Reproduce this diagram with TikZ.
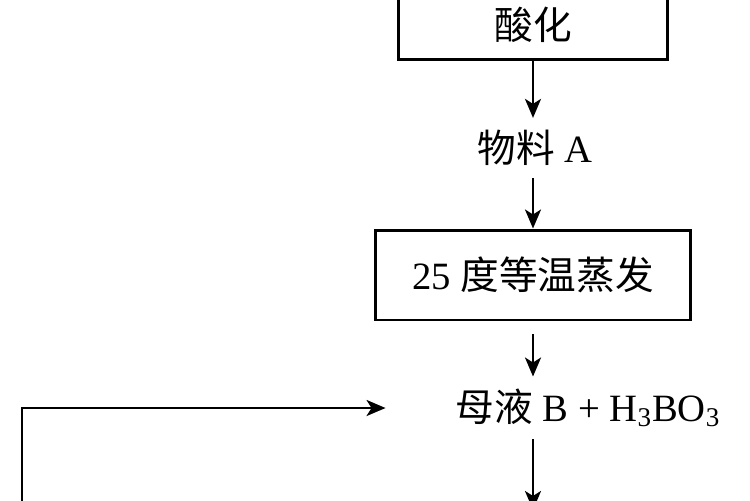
\documentclass[tikz,border=0pt]{standalone}
\usepackage{fontspec}
\setmainfont{Liberation Serif}
\newfontfamily\cjk{Noto Sans CJK SC}
\usetikzlibrary{arrows.meta, positioning}
\tikzstyle{flow}=[>={Stealth[length=0.38cm,width=0.32cm,inset=0.1cm]}, line width=1.5pt]
\tikzstyle{stage}=[draw, line width=1.7pt, inner sep=0pt]
\tikzstyle{stuff}=[inner sep=0.22cm]

\begin{document}
\begin{tikzpicture}[flow, x=0.02cm, y=-0.02cm, font=\fontsize{22}{26}\selectfont]
  \useasboundingbox (0,0) rectangle (750,500);
  \clip (0,0) rectangle (750,500);
  \node[stage, minimum width=5.4cm, minimum height=1.4cm] (acid) at (533,25) {\cjk 酸化};
  \node[stuff] (matA) at (535,148) {{\cjk 物料} A};
  \node[stage, minimum width=6.32cm, minimum height=1.8cm] (evap) at (533,275) {25 {\cjk 度等温蒸发}};
  \node[stuff] (liqB) at (588,408) {{\cjk 母液} B + H\textsubscript{3}BO\textsubscript{3}};
  \coordinate (back) at (22,510);
  \coordinate (out) at (533,510);
  \draw[->] (acid.south) -- (acid.south |- matA.north);
  \draw[->] (acid.south |- matA.south) -- (evap.north);
  \draw[->, shorten <=0.26cm] (evap.south) -- (evap.south |- liqB.north);
  \draw[->] (evap.south |- liqB.south) -- (out);
  \draw[->, shorten >=1.16cm] (back) |- (liqB.west);
\end{tikzpicture}
\end{document}
